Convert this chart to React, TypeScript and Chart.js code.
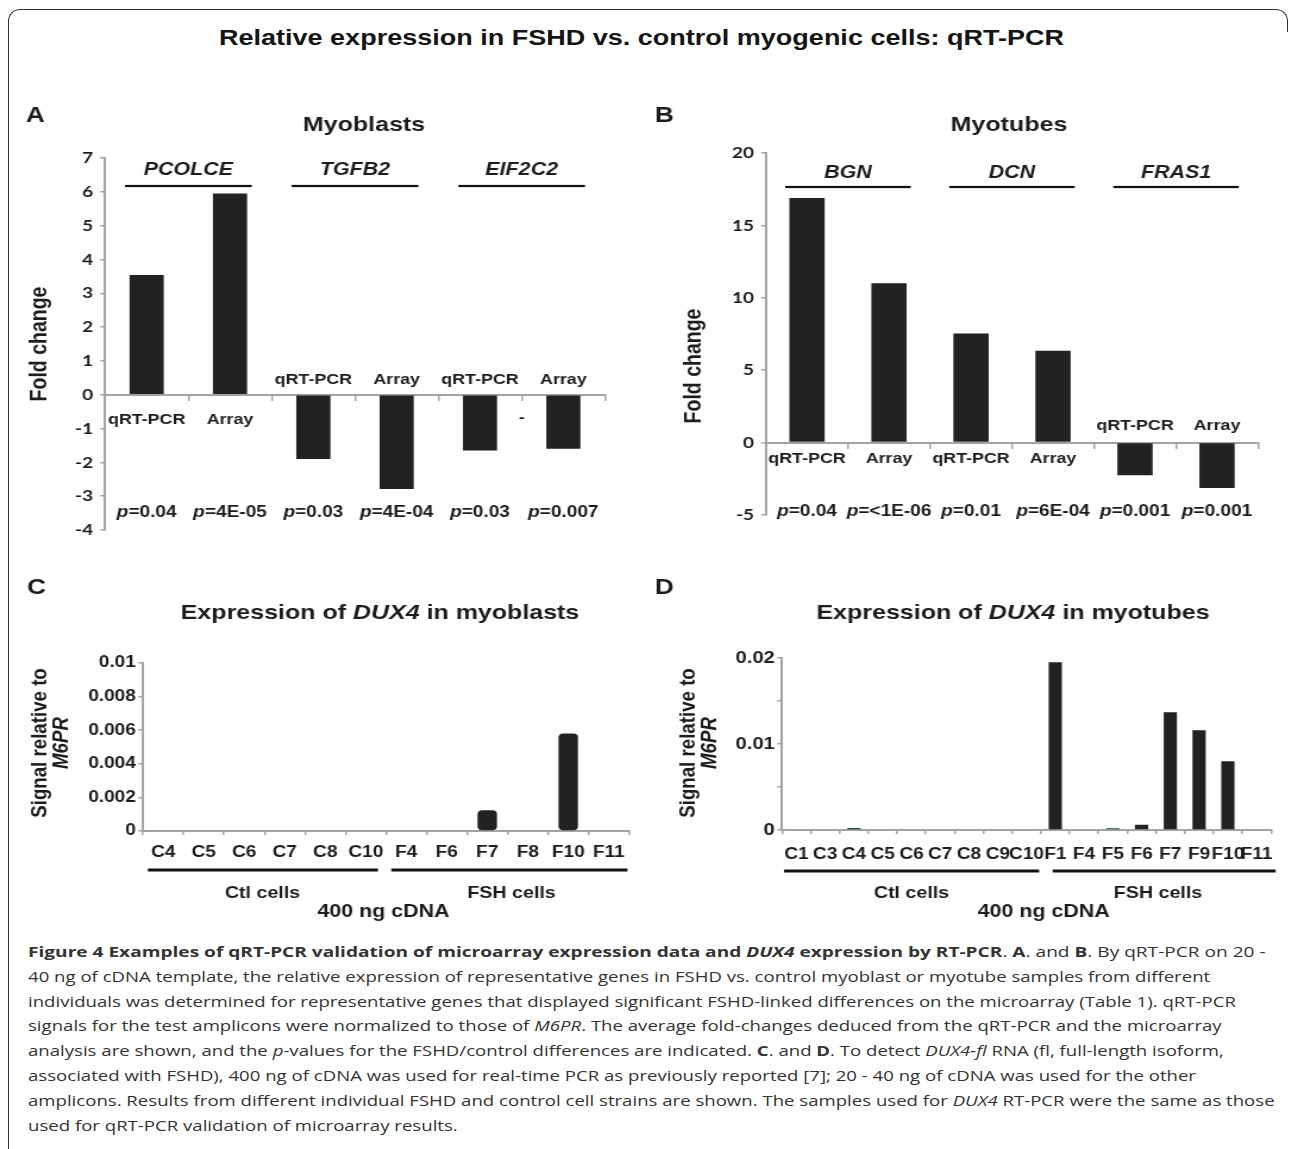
import React, { useEffect, useRef } from 'react';
import { Chart, registerables } from 'chart.js';

Chart.register(...registerables);

// ---------------- data ----------------
const foldCategories = ['qRT-PCR', 'Array', 'qRT-PCR', 'Array', 'qRT-PCR', 'Array'];

const myoblastGenes = ['PCOLCE', 'TGFB2', 'EIF2C2'];
const myoblastFoldChange = [3.54, 5.95, -1.9, -2.79, -1.65, -1.6];
const myoblastPValues = ['0.04', '4E-05', '0.03', '4E-04', '0.03', '0.007'];
const myoblastAxis = { min: -4, max: 7, step: 1 };

const myotubeGenes = ['BGN', 'DCN', 'FRAS1'];
const myotubeFoldChange = [16.9, 11.0, 7.54, 6.34, -2.26, -3.14];
const myotubePValues = ['0.04', '<1E-06', '0.01', '6E-04', '0.001', '0.001'];
const myotubeAxis = { min: -5, max: 20, step: 5 };

const dux4MyoblastSamples = ['C4', 'C5', 'C6', 'C7', 'C8', 'C10', 'F4', 'F6', 'F7', 'F8', 'F10', 'F11'];
const dux4MyoblastSignal = [0, 0, 0, 0, 0, 0, 0, 0, 0.00124, 0, 0.0058, 0];
const dux4MyoblastAxis = { min: 0, max: 0.01, step: 0.002 };

const dux4MyotubeSamples = ['C1', 'C3', 'C4', 'C5', 'C6', 'C7', 'C8', 'C9', 'C10', 'F1', 'F4', 'F5', 'F6', 'F7', 'F9', 'F10', 'F11'];
const dux4MyotubeSignal = [0, 0, 0.00023, 0, 0, 0, 0, 0, 0, 0.0195, 0, 0.0002, 0.0006, 0.0137, 0.0116, 0.008, 0];
const dux4MyotubeAxis = { min: 0, max: 0.02, step: 0.005, labelEvery: 0.01 };
const greenTintSamples = ['C4', 'F5'];

const cellGroups = ['Ctl cells', 'FSH cells'];
const cdnaLabel = '400 ng cDNA';

// ---------------- styles ----------------
const SX = 1.19; // the figure's lettering is horizontally stretched
const FONT = '"Liberation Sans", Arial, sans-serif';
const INK = '#1c1c1c';
const BAR = '#222222';
const AXIS = '#a3a3a3';

function drawText(ctx: any, s: string, x: number, y: number, font: string, align: any = 'center', color = INK) {
  ctx.save();
  ctx.font = font;
  ctx.fillStyle = color;
  ctx.textAlign = align;
  ctx.textBaseline = 'middle';
  ctx.fillText(s, x, y);
  ctx.restore();
}

function drawRich(ctx: any, parts: [string, string][], x: number, y: number, align = 'center', color = INK) {
  ctx.save();
  ctx.fillStyle = color;
  ctx.textBaseline = 'middle';
  ctx.textAlign = 'left';
  let total = 0;
  const widths = parts.map(([s, f]) => {
    ctx.font = f;
    const w = ctx.measureText(s).width;
    total += w;
    return w;
  });
  let cx = align === 'center' ? x - total / 2 : x;
  parts.forEach(([s, f], i) => {
    ctx.font = f;
    ctx.fillText(s, cx, y);
    cx += widths[i];
  });
  ctx.restore();
}

function drawVertical(ctx: any, parts: [string, string][], x: number, y: number) {
  ctx.save();
  ctx.translate(x, y);
  ctx.rotate(-Math.PI / 2);
  drawRich(ctx, parts, 0, 0);
  ctx.restore();
}

type Box = { L: number; T: number; W: number; H: number };

// ---------------- fold-change panels (A, B) ----------------
function makeFoldConfig(p: any, iw: number) {
  const ix = (px: number) => (px - p.box.L) / SX;
  const iy = (py: number) => py - p.box.T;
  const yW = 50;
  const aL = ix(p.area.left), aR = ix(p.area.right), aT = iy(p.area.top), aB = iy(p.area.bottom);
  const overlay = {
    id: 'overlay' + p.letter,
    afterDraw(chart: any) {
      const ctx = chart.ctx;
      const xs = chart.scales.x;
      const ys = chart.scales.y;
      const y0 = ys.getPixelForValue(0);
      const cw = xs.getPixelForValue(1) - xs.getPixelForValue(0);
      drawText(ctx, p.letter, ix(p.letterX), iy(p.letterY), `bold 22px ${FONT}`, 'left');
      drawText(ctx, p.title, ix(p.titleX), iy(p.titleY), `bold 21px ${FONT}`);
      p.genes.forEach((g: string, k: number) => {
        const cx = xs.getPixelForValue(2 * k + 0.5);
        drawText(ctx, g, cx, iy(p.geneY), `italic bold 18px ${FONT}`);
        ctx.fillStyle = '#111';
        ctx.fillRect(cx - p.lineHalf * cw, iy(p.lineY) - 1.1, 2 * p.lineHalf * cw, 2.2);
      });
      p.categories.forEach((c: string, i: number) => {
        const cx = xs.getPixelForValue(i);
        const ly = p.values[i] >= 0 ? y0 + p.below : y0 - p.above;
        drawText(ctx, c, cx, ly, `bold 15px ${FONT}`);
        drawRich(ctx, [['p', `italic bold 16px ${FONT}`], ['=' + p.pvals[i], `bold 16px ${FONT}`]], cx, iy(p.pY));
      });
      drawVertical(ctx, [['Fold change', `bold 19.5px ${FONT}`]], ix(p.yTitleX), iy(p.yTitleY));
      if (p.dashAt !== undefined) {
        drawText(ctx, '-', xs.getPixelForValue(p.dashAt), y0 + 23, `bold 15px ${FONT}`);
      }
    },
  };
  return {
    type: 'bar',
    data: {
      labels: p.categories,
      datasets: [{ data: p.values, backgroundColor: BAR, borderWidth: 0, barPercentage: p.barPct, categoryPercentage: 1 }],
    },
    options: {
      animation: false,
      responsive: false,
      maintainAspectRatio: false,
      layout: { padding: { left: aL - yW, right: iw - aR, top: aT, bottom: p.box.H - aB } },
      plugins: { legend: { display: false }, tooltip: { enabled: false }, title: { display: false } },
      scales: {
        x: {
          position: { y: 0 },
          grid: { display: true, drawOnChartArea: false, drawTicks: true, tickLength: 5, color: AXIS, lineWidth: 1.5 },
          border: { display: true, color: AXIS, width: 2 },
          ticks: { display: false },
        },
        y: {
          min: p.axis.min,
          max: p.axis.max,
          afterFit: (s: any) => { s.width = yW; },
          grid: { drawOnChartArea: false, drawTicks: true, tickLength: 4, color: AXIS, lineWidth: 1.5 },
          border: { display: true, color: AXIS, width: 2 },
          ticks: { stepSize: p.axis.step, font: { family: 'Lato', size: 16, weight: 'bold' }, color: INK, padding: 6 },
        },
      },
    },
    plugins: [overlay],
  };
}

// ---------------- DUX4 panels (C, D) ----------------
function makeDuxConfig(p: any, iw: number) {
  const ix = (px: number) => (px - p.box.L) / SX;
  const iy = (py: number) => py - p.box.T;
  const yW = 60;
  const xH = 40;
  const aL = ix(p.area.left), aR = ix(p.area.right), aT = iy(p.area.top), aB = iy(p.area.bottom);
  const n = p.samples.length;
  const ctlCount = p.samples.filter((s: string) => s.startsWith('C')).length;
  const overlay = {
    id: 'dux' + p.letter,
    afterDraw(chart: any) {
      const ctx = chart.ctx;
      const xs = chart.scales.x;
      drawText(ctx, p.letter, ix(p.letterX), iy(p.letterY), `bold 22px ${FONT}`, 'left');
      drawRich(
        ctx,
        [
          ['Expression of ', `bold 21px ${FONT}`],
          ['DUX4', `italic bold 21px ${FONT}`],
          [' in ' + p.cellType, `bold 21px ${FONT}`],
        ],
        ix(p.titleX),
        iy(p.titleY)
      );
      drawVertical(ctx, [['Signal relative to', `bold 18.7px ${FONT}`]], ix(p.yTitleX1), iy(p.yTitleY));
      drawVertical(ctx, [['M6PR', `italic bold 18.7px ${FONT}`]], ix(p.yTitleX2), iy(p.yTitleY));
      const ly = iy(p.groupLineY);
      ctx.fillStyle = '#111';
      const seg = (a: number, b: number) => {
        const x1 = xs.getPixelForValue(a);
        const x2 = xs.getPixelForValue(b);
        ctx.fillRect(x1, ly - 1.5, x2 - x1, 3);
      };
      seg(-0.5 + p.ins[0], ctlCount - 0.5 - p.ins[1]);
      seg(ctlCount - 0.5 + p.ins[2], n - 0.5 - p.ins[3]);
      drawText(ctx, cellGroups[0], xs.getPixelForValue((ctlCount - 1) / 2 + p.ctlShift), iy(p.groupLabelY), `bold 16.5px ${FONT}`);
      drawText(ctx, cellGroups[1], xs.getPixelForValue((ctlCount + n - 1) / 2 + p.fshShift), iy(p.groupLabelY), `bold 16.5px ${FONT}`);
      drawText(ctx, cdnaLabel, xs.getPixelForValue(ctlCount - 0.5 + p.cdnaShift), iy(p.cdnaY), `bold 18px ${FONT}`);
    },
  };
  const every = p.axis.labelEvery;
  return {
    type: 'bar',
    data: {
      labels: p.samples,
      datasets: [{
        data: p.values,
        backgroundColor: p.colors,
        borderWidth: 0,
        borderRadius: p.radius,
        borderSkipped: false,
        barPercentage: p.barPct,
        categoryPercentage: 1,
      }],
    },
    options: {
      animation: false,
      responsive: false,
      maintainAspectRatio: false,
      layout: { padding: { left: aL - yW, right: iw - aR, top: aT, bottom: p.box.H - aB - xH } },
      plugins: { legend: { display: false }, tooltip: { enabled: false }, title: { display: false } },
      scales: {
        x: {
          afterFit: (s: any) => { s.height = xH; },
          grid: { display: true, drawOnChartArea: false, drawTicks: true, tickLength: 4, color: AXIS, lineWidth: 1.5 },
          border: { display: true, color: AXIS, width: 2 },
          ticks: {
            autoSkip: false, maxRotation: 0, minRotation: 0,
            font: { family: FONT, size: 16, weight: 'bold' }, color: INK, padding: p.xPad,
          },
        },
        y: {
          min: p.axis.min,
          max: p.axis.max,
          afterFit: (s: any) => { s.width = yW; },
          grid: { drawOnChartArea: false, drawTicks: true, tickLength: 4, color: AXIS, lineWidth: 1.5 },
          border: { display: true, color: AXIS, width: 2 },
          ticks: {
            stepSize: p.axis.step,
            font: { family: FONT, size: p.yFont, weight: 'bold' },
            color: INK,
            padding: 2,
            callback: (v: any) => {
              const num = Number(v);
              if (every && Math.abs(num / every - Math.round(num / every)) > 1e-6) return '';
              return String(+num.toFixed(4));
            },
          },
        },
      },
    },
    plugins: [overlay],
  };
}

// ---------------- panel specs ----------------
const specA = {
  box: { L: 0, T: 90, W: 640, H: 470 },
  area: { left: 105, right: 605, top: 158, bottom: 530 },
  axis: myoblastAxis, categories: foldCategories, values: myoblastFoldChange, genes: myoblastGenes, pvals: myoblastPValues,
  barPct: 0.41, letter: 'A', letterX: 26, letterY: 116, title: 'Myoblasts', titleX: 364, titleY: 125,
  geneY: 170, lineY: 186, lineHalf: 0.76, below: 25, above: 15, pY: 513, yTitleX: 40, yTitleY: 344, dashAt: 4.5,
};
const specB = {
  box: { L: 640, T: 90, W: 650, H: 470 },
  area: { left: 766, right: 1258, top: 153, bottom: 515 },
  axis: myotubeAxis, categories: foldCategories, values: myotubeFoldChange, genes: myotubeGenes, pvals: myotubePValues,
  barPct: 0.43, letter: 'B', letterX: 655, letterY: 116, title: 'Myotubes', titleX: 1009, titleY: 125,
  geneY: 173, lineY: 187, lineHalf: 0.765, below: 16, above: 17, pY: 512, yTitleX: 694, yTitleY: 366,
};
const specC = {
  box: { L: 0, T: 560, W: 640, H: 370 },
  area: { left: 143, right: 629, top: 663, bottom: 831 },
  axis: dux4MyoblastAxis, samples: dux4MyoblastSamples, values: dux4MyoblastSignal,
  colors: dux4MyoblastSamples.map(() => BAR), radius: 4, barPct: 0.48, xPad: 8, yFont: 16,
  letter: 'C', letterX: 27, letterY: 588, cellType: 'myoblasts', titleX: 380, titleY: 613,
  yTitleX1: 40, yTitleX2: 61.5, yTitleY: 743,
  groupLineY: 870, ins: [0.12, 0.2, 0.13, 0.04], ctlShift: -0.05, fshShift: 0.1, cdnaShift: -0.06,
  groupLabelY: 893, cdnaY: 912,
};
const specD = {
  box: { L: 640, T: 560, W: 650, H: 370 },
  area: { left: 782, right: 1271, top: 658, bottom: 830 },
  axis: dux4MyotubeAxis, samples: dux4MyotubeSamples, values: dux4MyotubeSignal,
  colors: dux4MyotubeSamples.map((s) => (greenTintSamples.includes(s) ? '#1d4a2c' : BAR)), radius: 0, barPct: 0.46, xPad: 11, yFont: 17,
  letter: 'D', letterX: 655, letterY: 588, cellType: 'myotubes', titleX: 1013, titleY: 613,
  yTitleX1: 689, yTitleX2: 710.5, yTitleY: 743,
  groupLineY: 871, ins: [0.07, 0.06, 0.41, -0.16], ctlShift: 0, fshShift: 0.07, cdnaShift: 0.1,
  groupLabelY: 893, cdnaY: 912,
};

function ChartCanvas({ box, build }: { box: Box; build: (iw: number) => any }) {
  const ref = useRef<HTMLCanvasElement | null>(null);
  const iw = Math.round(box.W / SX);
  useEffect(() => {
    if (!ref.current) return;
    const chart = new Chart(ref.current, build(iw));
    return () => chart.destroy();
  }, []);
  return (
    <canvas
      ref={ref}
      width={iw}
      height={box.H}
      style={{
        position: 'absolute', left: box.L, top: box.T, width: iw, height: box.H,
        transform: `scaleX(${SX})`, transformOrigin: '0 0',
      }}
    />
  );
}

function measure(text: string, font: string) {
  const c = document.createElement('canvas').getContext('2d');
  if (!c) return 1;
  c.font = font;
  return c.measureText(text).width || 1;
}

const pageTitle = 'Relative expression in FSHD vs. control myogenic cells: qRT-PCR';
const captionFont = '15px "Open Sans"';
const captionLongest = 'amplicons. Results from different individual FSHD and control cell strains are shown. The samples used for DUX4 RT-PCR were the same as those';

export default function App() {
  const titleFont = `bold 22px ${FONT}`;
  const tScale = 845 / measure(pageTitle, titleFont);
  const cScale = (1278 - 28) / measure(captionLongest, captionFont);

  const captionLines = [
    <>
      <b>Figure 4 Examples of qRT-PCR validation of microarray expression data and <i>DUX4</i> expression by RT-PCR</b>. <b>A</b>. and <b>B</b>. By qRT-PCR on 20 -
    </>,
    <>40 ng of cDNA template, the relative expression of representative genes in FSHD vs. control myoblast or myotube samples from different</>,
    <>individuals was determined for representative genes that displayed significant FSHD-linked differences on the microarray (Table 1). qRT-PCR</>,
    <>signals for the test amplicons were normalized to those of <i>M6PR</i>. The average fold-changes deduced from the qRT-PCR and the microarray</>,
    <>analysis are shown, and the <i>p</i>-values for the FSHD/control differences are indicated. <b>C</b>. and <b>D</b>. To detect <i>DUX4-fl</i> RNA (fl, full-length isoform,</>,
    <>associated with FSHD), 400 ng of cDNA was used for real-time PCR as previously reported [7]; 20 - 40 ng of cDNA was used for the other</>,
    <>amplicons. Results from different individual FSHD and control cell strains are shown. The samples used for <i>DUX4</i> RT-PCR were the same as those</>,
    <>used for qRT-PCR validation of microarray results.</>,
  ];

  return (
    <div style={{ position: 'absolute', left: 0, top: 0, width: 1293, height: 1149, overflow: 'hidden', background: '#fff' }}>
      <div style={{ position: 'absolute', left: 8, top: 9, width: 1200, height: 1300, borderLeft: '1.5px solid #333', borderTop: '1.5px solid #333', borderTopLeftRadius: 12 }} />
      <div style={{ position: 'absolute', left: 1200, top: 9, width: 87, height: 22, borderTop: '1.5px solid #333', borderRight: '1.5px solid #333', borderTopRightRadius: 12 }} />
      <div
        style={{
          position: 'absolute', left: 641 - 845 / 2, top: 27, font: titleFont, lineHeight: '22px', color: '#151515',
          whiteSpace: 'nowrap', transform: `scaleX(${tScale})`, transformOrigin: '0 0',
        }}
      >
        {pageTitle}
      </div>
      <ChartCanvas box={specA.box} build={(iw) => makeFoldConfig(specA, iw)} />
      <ChartCanvas box={specB.box} build={(iw) => makeFoldConfig(specB, iw)} />
      <ChartCanvas box={specC.box} build={(iw) => makeDuxConfig(specC, iw)} />
      <ChartCanvas box={specD.box} build={(iw) => makeDuxConfig(specD, iw)} />
      <div
        style={{
          position: 'absolute', left: 28, top: 939, font: captionFont, lineHeight: '24.8px', color: '#333',
          whiteSpace: 'nowrap', transform: `scaleX(${cScale})`, transformOrigin: '0 0',
        }}
      >
        {captionLines.map((l, i) => (
          <div
            key={i}
            style={i === 0
              ? { whiteSpace: 'nowrap', transform: 'scaleX(1.027)', transformOrigin: '0 0' }
              : { whiteSpace: 'nowrap' }}
          >
            {l}
          </div>
        ))}
      </div>
    </div>
  );
}
